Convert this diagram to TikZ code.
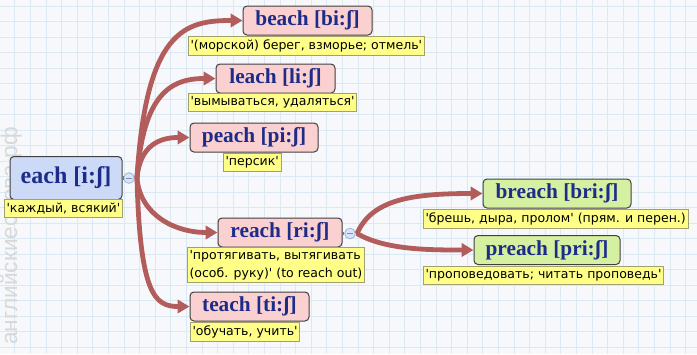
\documentclass[tikz,border=0pt]{standalone}
\usepackage{fontspec}
\setmainfont{Liberation Serif}
\newfontfamily\lblfont{DejaVu Sans}
\newfontfamily\wmfont{Liberation Sans}
\usetikzlibrary{arrows.meta}
\definecolor{bgc}{HTML}{F6F8FB}
\definecolor{gridc}{HTML}{DCE8F2}
\definecolor{conn}{HTML}{B25C5C}
\definecolor{titlec}{HTML}{1C2C88}
\definecolor{bluefill}{HTML}{CCDAF8}
\definecolor{pinkfill}{HTML}{FBD0D0}
\definecolor{greenfill}{HTML}{D6F0A2}
\definecolor{yellowfill}{HTML}{FFFF88}
\definecolor{lblborder}{HTML}{A0A070}
\definecolor{togfill}{HTML}{D8E4F8}
\definecolor{togdraw}{HTML}{9DB2D8}
\definecolor{wmc}{HTML}{D8D8D8}
\begin{document}
\begin{tikzpicture}[x=0.75pt,y=-0.75pt,
  word/.style={draw=black!75, line width=0.75pt, rounded corners=3pt,
    font=\bfseries\fontsize{16}{16}\selectfont, text=titlec, inner sep=0pt,
    minimum height=21.75pt},
  lbl/.style={draw=lblborder, fill=yellowfill, line width=0.6pt,
    font=\lblfont\fontsize{9.4}{13}\selectfont, inner xsep=1.6pt, inner ysep=2.4pt,
    anchor=north west, align=left, text=black},
  link/.style={draw=conn, line width=3.6pt, -{Triangle[length=9pt,width=10pt]}},
  stub/.style={draw=conn, line width=2.6pt},
  toggle/.style={circle, draw=togdraw, fill=togfill, line width=0.6pt,
    minimum size=8pt, inner sep=0pt,
    path picture={\draw[togdraw!80!black, line width=0.6pt]
      ([xshift=-2pt]path picture bounding box.center) --
      ([xshift=2pt]path picture bounding box.center);}}
]
\useasboundingbox (0,0) rectangle (697,354);
\fill[bgc] (0,0) rectangle (697,354);
\foreach \i in {0,...,44} \draw[gridc, line width=0.75pt] (14.9+15.6*\i,0) -- ++(0,354);
\foreach \i in {0,...,22} \draw[gridc, line width=0.75pt] (0,6.3+15.5*\i) -- ++(697,0);
\node[rotate=90, text=wmc, font=\wmfont\fontsize{17}{17}\selectfont, inner sep=0pt] (wm) at (11,236) {английскиеслова.рф};

% nodes
\node[word, fill=bluefill, minimum width=84pt, minimum height=32.25pt, font=\bfseries\fontsize{18}{18}\selectfont] (each) at (66,178) {each [i:ʃ]};
\node[lbl] (eachl) at (4,199) {'каждый, всякий'};
\node[toggle] (t1) at (129,178) {};
\coordinate (j1) at (137,178);

\node[word, fill=pinkfill, minimum width=96.75pt] (beach) at (307.5,20.5) {beach [bi:ʃ]};
\node[lbl] (beachl) at (188,36) {'(морской) берег, взморье; отмель'};
\node[word, fill=pinkfill, minimum width=89.25pt] (leach) at (275.5,78.5) {leach [li:ʃ]};
\node[lbl] (leachl) at (188,93) {'вымываться, удаляться'};
\node[word, fill=pinkfill, minimum width=96pt] (peach) at (254,137.5) {peach [pi:ʃ]};
\node[lbl] (peachl) at (223,153) {'персик'};
\node[word, fill=pinkfill, minimum width=93pt] (reach) at (280,232.5) {reach [ri:ʃ]};
\node[lbl] (reachl) at (187,247) {'протягивать, вытягивать\\(особ. руку)' (to reach out)};
\node[toggle] (t2) at (350,233.5) {};
\coordinate (j2) at (357,233.5);
\node[word, fill=pinkfill, minimum width=89.25pt] (teach) at (249.5,306.5) {teach [ti:ʃ]};
\node[lbl] (teachl) at (190,322) {'обучать, учить'};

\node[word, fill=greenfill, minimum width=111pt] (breach) at (557,193.5) {breach [bri:ʃ]};
\node[lbl] (breachl) at (423,209) {'брешь, дыра, пролом' (прям. и перен.)};
\node[word, fill=greenfill, minimum width=109.5pt] (preach) at (547,250) {preach [pri:ʃ]};
\node[lbl] (preachl) at (423,266) {'проповедовать; читать проповедь'};

% connectors
\draw[stub] (each.east) -- (t1.west);
\draw[stub] (t1.east) -- (j1);
\draw[link] (j1) .. controls (146,30) and (185,20.5) .. (beach.west);
\draw[link] (j1) .. controls (143,95) and (170,78.5) .. (leach.west);
\draw[link] (j1) .. controls (140,145) and (160,137.5) .. (peach.west);
\draw[link] (j1) .. controls (140,215) and (175,232.5) .. (reach.west);
\draw[link] (j1) .. controls (140,295) and (155,306.5) .. (teach.west);
\draw[stub] (reach.east |- t2) -- (t2.west);
\draw[stub] (t2.east) -- (j2);
\draw[link] (j2) .. controls (372,200) and (410,193.5) .. (breach.west);
\draw[link] (j2) .. controls (385,250) and (430,250) .. (preach.west);
\end{tikzpicture}
\end{document}
